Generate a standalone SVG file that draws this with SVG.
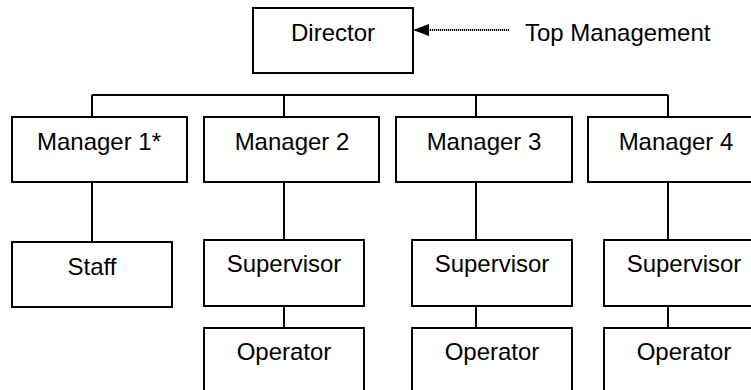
<svg xmlns="http://www.w3.org/2000/svg" width="751" height="390" viewBox="0 0 751 390">
  <style>
    .box { fill: #fff; stroke: #000; stroke-width: 2; }
    .lbl { font-family: "Liberation Sans", Arial, sans-serif; font-size: 24px; fill: #000; text-anchor: middle; }
    .note { font-family: "Liberation Sans", Arial, sans-serif; font-size: 24px; fill: #000; }
    .wire { fill: none; stroke: #000; stroke-width: 2; }
    .dot { fill: none; stroke: #000; stroke-width: 2; stroke-dasharray: 1.2 0.8; }
  </style>

  <g id="connectors">
    <path class="wire" d="M92,95 H668"/>
    <path class="wire" d="M92,95 V117 M284,95 V117 M476,95 V117 M668,95 V117"/>
    <path class="wire" d="M92,182 V242"/>
    <path class="wire" d="M284,177 V240 M476,177 V240 M668,177 V240"/>
    <path class="wire" d="M284,306 V328 M476,306 V328 M668,306 V328"/>
    <path class="dot" d="M509,30 H426"/>
    <polygon points="413,30 429,24 429,36" fill="#000"/>
  </g>

  <g id="director">
    <rect class="box" x="253" y="8" width="160" height="65"/>
    <text class="lbl" x="333" y="41">Director</text>
  </g>
  <g id="top-management">
    <text class="note" x="525" y="41">Top Management</text>
  </g>

  <g id="manager1">
    <rect class="box" x="12" y="117" width="175" height="65"/>
    <text class="lbl" x="99" y="150">Manager 1*</text>
  </g>
  <g id="manager2">
    <rect class="box" x="204" y="117" width="175" height="65"/>
    <text class="lbl" x="292" y="150">Manager 2</text>
  </g>
  <g id="manager3">
    <rect class="box" x="396" y="117" width="176" height="65"/>
    <text class="lbl" x="484" y="150">Manager 3</text>
  </g>
  <g id="manager4">
    <rect class="box" x="588" y="117" width="176" height="65"/>
    <text class="lbl" x="676" y="150">Manager 4</text>
  </g>

  <g id="staff">
    <rect class="box" x="12" y="242" width="160" height="65"/>
    <text class="lbl" x="92" y="275">Staff</text>
  </g>
  <g id="supervisor2">
    <rect class="box" x="204" y="240" width="160" height="66"/>
    <text class="lbl" x="284" y="272">Supervisor</text>
  </g>
  <g id="supervisor3">
    <rect class="box" x="412" y="240" width="160" height="66"/>
    <text class="lbl" x="492" y="272">Supervisor</text>
  </g>
  <g id="supervisor4">
    <rect class="box" x="604" y="240" width="160" height="66"/>
    <text class="lbl" x="684" y="272">Supervisor</text>
  </g>

  <g id="operator2">
    <rect class="box" x="204" y="328" width="160" height="80"/>
    <text class="lbl" x="284" y="360">Operator</text>
  </g>
  <g id="operator3">
    <rect class="box" x="412" y="328" width="160" height="80"/>
    <text class="lbl" x="492" y="360">Operator</text>
  </g>
  <g id="operator4">
    <rect class="box" x="604" y="328" width="160" height="80"/>
    <text class="lbl" x="684" y="360">Operator</text>
  </g>
</svg>
